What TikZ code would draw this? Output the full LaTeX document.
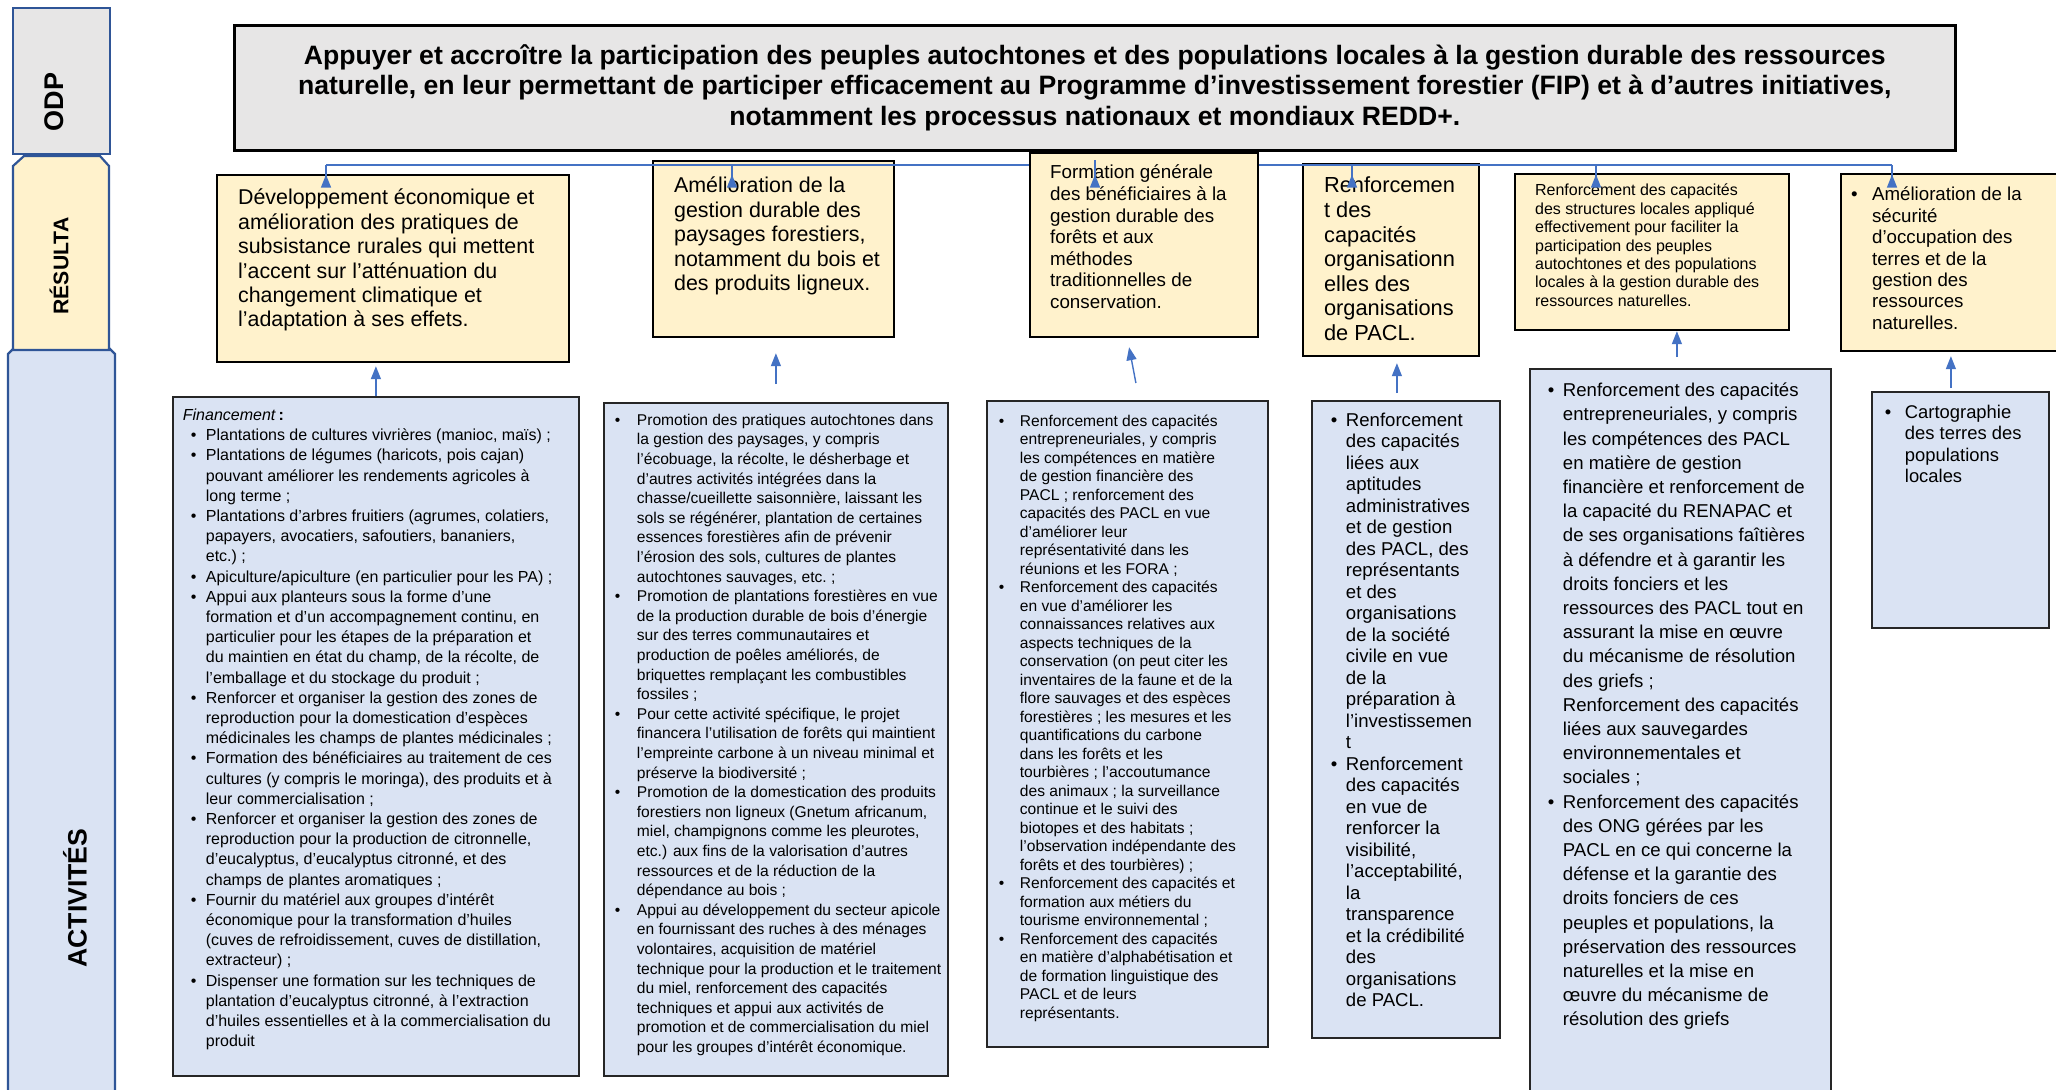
\documentclass[tikz,border=0pt]{standalone}
\usepackage{fontspec}
\setmainfont{Liberation Sans}
\usepackage{tikz}
\usetikzlibrary{arrows.meta}
\usetikzlibrary{calc}
\definecolor{odpgris}{HTML}{E7E6E6}
\definecolor{resjaune}{HTML}{FFF2CC}
\definecolor{actbleu}{HTML}{DAE3F3}
\definecolor{bordbleu}{HTML}{2F5597}
\definecolor{flechebleu}{HTML}{4472C4}
\newcommand{\bloc}[5]{\hspace*{#3}\begin{minipage}[t][#2][t]{#1}\vspace*{#4}\raggedright #5\end{minipage}}
\newenvironment{puces}[2]{\begin{list}{\hspace*{#1}\textbullet}{\setlength{\leftmargin}{#2}\setlength{\labelwidth}{#2}%
  \setlength{\labelsep}{0pt}\setlength{\itemsep}{0pt}\setlength{\parsep}{0pt}\setlength{\topsep}{0pt}%
  \setlength{\partopsep}{0pt}\def\makelabel##1{##1\hfil}}\raggedright}{\end{list}}
\tikzset{
  odpbox/.style={draw=black, line width=1.3pt, fill=odpgris, anchor=north west, align=center,
    minimum width=860.5pt, minimum height=62.5pt, font=\bfseries\fontsize{13.3}{15.1}\selectfont},
  resbox/.style={draw=black, line width=1.1pt, fill=resjaune, inner sep=0pt, anchor=north west},
  actbox/.style={draw=black!85, line width=0.9pt, fill=actbleu, inner sep=0pt, anchor=north west},
  cote/.style={draw=bordbleu, line width=1.1pt},
  cotelbl/.style={rotate=90, inner sep=0pt, font=\bfseries},
  liaison/.style={flechebleu, line width=0.7pt},
  fleche/.style={liaison, -{Triangle[length=6.5pt,width=5pt]}}
}
\begin{document}
\begin{tikzpicture}[x=0.5pt,y=-0.5pt]
  \useasboundingbox (0,0) rectangle (2056,1089);
  \clip (0,0) rectangle (2056,1089);
  \fill[white] (0,0) rectangle (2056,1089);

  \filldraw[cote, fill=odpgris] (13,8) rectangle (110,154);
  \filldraw[cote, fill=actbleu] (8,354) -- (16,346) -- (107,346) -- (115,354) -- (115,1100) -- (8,1100) -- cycle;
  \filldraw[cote, fill=resjaune] (13,166) -- (24,156) -- (100,156) -- (109,166) -- (109,350) -- (13,350) -- cycle;
  \node[cotelbl, font=\bfseries\fontsize{13.5}{15}\selectfont] (lblodp) at (54,102) {ODP};
  \node[cotelbl, font=\bfseries\fontsize{10.6}{12}\selectfont] (lblres) at (59,266) {RÉSULTA};
  \node[cotelbl, font=\bfseries\fontsize{13.3}{15}\selectfont] (lblact) at (75,898) {ACTIVITÉS};

  \node[odpbox] (odp) at (233,24) {Appuyer et accroître la participation des peuples autochtones et des populations locales à la gestion durable des ressources\\
    naturelle, en leur permettant de participer efficacement au Programme d’investissement forestier (FIP) et à d’autres initiatives,\\
    notamment les processus nationaux et mondiaux REDD+.};

  \node[resbox, font=\fontsize{10.7}{12.2}\selectfont] (r1) at (216,174) {\bloc{165.5pt}{93.5pt}{10.5pt}{7pt}{%
    Développement économique et\\ amélioration des pratiques de\\ subsistance rurales qui mettent\\
    l’accent sur l’atténuation du\\ changement climatique et\\ l’adaptation à ses effets.}};
  \node[resbox, font=\fontsize{10.7}{12.2}\selectfont] (r2) at (652,160) {\bloc{110pt}{88pt}{10.5pt}{8pt}{%
    Amélioration de la\\ gestion durable des\\ paysages forestiers,\\ notamment du bois et\\ des produits ligneux.}};
  \node[resbox, font=\fontsize{10.9}{12.3}\selectfont] (r4) at (1302,163) {\bloc{77.5pt}{96pt}{10.5pt}{6.5pt}{%
    Renforcemen\\ t des\\ capacités\\ organisationn\\ elles des\\ organisations\\ de PACL.}};
  \node[resbox, font=\fontsize{8}{9.2}\selectfont] (r5) at (1514,173) {\bloc{127pt}{78pt}{10pt}{5pt}{%
    Renforcement des capacités\\ des structures locales appliqué\\ effectivement pour faciliter la\\ participation des peuples\\
    autochtones et des populations\\ locales à la gestion durable des\\ ressources naturelles.}};
  \node[resbox, font=\fontsize{9.35}{10.7}\selectfont] (r6) at (1840,173) {\bloc{105pt}{88.5pt}{5pt}{6.5pt}{%
    \begin{puces}{0pt}{10.5pt}
    \item Amélioration de la\\ sécurité\\ d’occupation des\\ terres et de la\\ gestion des\\ ressources\\ naturelles.
    \end{puces}}};

  \coordinate (busG) at (326,165);
  \coordinate (busD) at (1892,165);
  \draw[liaison] (busG) -- (busD);

  \node[resbox, font=\fontsize{9.4}{10.8}\selectfont] (r3) at (1029,152) {\bloc{104pt}{92pt}{10pt}{6pt}{%
    Formation générale\\ des bénéficiaires à la\\ gestion durable des\\ forêts et aux\\ méthodes\\ traditionnelles de\\ conservation.}};

  \node[actbox, font=\fontsize{8}{10.1}\selectfont] (a1) at (172,396) {\bloc{198pt}{339.5pt}{5pt}{6pt}{%
    \textit{Financement}\,\textbf{:}\par
    \begin{puces}{4pt}{11.5pt}
    \item Plantations de cultures vivrières (manioc, maïs)~;
    \item Plantations de légumes (haricots, pois cajan)\\ pouvant améliorer les rendements agricoles à\\ long terme~;
    \item Plantations d’arbres fruitiers (agrumes, colatiers,\\ papayers, avocatiers, safoutiers, bananiers,\\ etc.)~;
    \item Apiculture/apiculture (en particulier pour les PA)~;
    \item Appui aux planteurs sous la forme d’une\\ formation et d’un accompagnement continu, en\\ particulier pour les étapes de la préparation et\\
      du maintien en état du champ, de la récolte, de\\ l’emballage et du stockage du produit~;
    \item Renforcer et organiser la gestion des zones de\\ reproduction pour la domestication d’espèces\\ médicinales les champs de plantes médicinales~;
    \item Formation des bénéficiaires au traitement de ces\\ cultures (y compris le moringa), des produits et à\\ leur commercialisation~;
    \item Renforcer et organiser la gestion des zones de\\ reproduction pour la production de citronnelle,\\ d’eucalyptus, d’eucalyptus citronné, et des\\
      champs de plantes aromatiques~;
    \item Fournir du matériel aux groupes d’intérêt\\ économique pour la transformation d’huiles\\ (cuves de refroidissement, cuves de distillation,\\ extracteur)~;
    \item Dispenser une formation sur les techniques de\\ plantation d’eucalyptus citronné, à l’extraction\\ d’huiles essentielles et à la commercialisation du\\ produit
    \end{puces}}};

  \node[actbox, font=\fontsize{7.8}{9.8}\selectfont] (a2) at (603,402) {\bloc{166.5pt}{336.5pt}{5.5pt}{5.5pt}{%
    \begin{puces}{0pt}{11pt}
    \item Promotion des pratiques autochtones dans\\ la gestion des paysages, y compris\\ l’écobuage, la récolte, le désherbage et\\
      d’autres activités intégrées dans la\\ chasse/cueillette saisonnière, laissant les\\ sols se régénérer, plantation de certaines\\
      essences forestières afin de prévenir\\ l’érosion des sols, cultures de plantes\\ autochtones sauvages, etc.~;
    \item Promotion de plantations forestières en vue\\ de la production durable de bois d’énergie\\ sur des terres communautaires et\\
      production de poêles améliorés, de\\ briquettes remplaçant les combustibles\\ fossiles~;
    \item Pour cette activité spécifique, le projet\\ financera l’utilisation de forêts qui maintient\\ l’empreinte carbone à un niveau minimal et\\ préserve la biodiversité~;
    \item Promotion de la domestication des produits\\ forestiers non ligneux (Gnetum africanum,\\ miel, champignons comme les pleurotes,\\
      etc.) aux fins de la valorisation d’autres\\ ressources et de la réduction de la\\ dépendance au bois~;
    \item Appui au développement du secteur apicole\\ en fournissant des ruches à des ménages\\ volontaires, acquisition de matériel\\
      technique pour la production et le traitement\\ du miel, renforcement des capacités\\ techniques et appui aux activités de\\
      promotion et de commercialisation du miel\\ pour les groupes d’intérêt économique.
    \end{puces}}};

  \node[actbox, font=\fontsize{7.8}{9.25}\selectfont] (a3) at (986,400) {\bloc{134.5pt}{323pt}{6pt}{7pt}{%
    \begin{puces}{0pt}{10.5pt}
    \item Renforcement des capacités\\ entrepreneuriales, y compris\\ les compétences en matière\\ de gestion financière des\\
      PACL~; renforcement des\\ capacités des PACL en vue\\ d’améliorer leur\\ représentativité dans les\\ réunions et les FORA~;
    \item Renforcement des capacités\\ en vue d’améliorer les\\ connaissances relatives aux\\ aspects techniques de la\\
      conservation (on peut citer les\\ inventaires de la faune et de la\\ flore sauvages et des espèces\\ forestières~; les mesures et les\\
      quantifications du carbone\\ dans les forêts et les\\ tourbières~; l’accoutumance\\ des animaux~; la surveillance\\
      continue et le suivi des\\ biotopes et des habitats~;\\ l’observation indépendante des\\ forêts et des tourbières)~;
    \item Renforcement des capacités et\\ formation aux métiers du\\ tourisme environnemental~;
    \item Renforcement des capacités\\ en matière d’alphabétisation et\\ de formation linguistique des\\ PACL et de leurs\\ représentants.
    \end{puces}}};

  \node[actbox, font=\fontsize{9.3}{10.75}\selectfont] (a4) at (1311,400) {\bloc{84.5pt}{318.5pt}{9.5pt}{6pt}{%
    \begin{puces}{0pt}{7.5pt}
    \item Renforcement\\ des capacités\\ liées aux\\ aptitudes\\ administratives\\ et de gestion\\ des PACL, des\\ représentants\\
      et des\\ organisations\\ de la société\\ civile en vue\\ de la\\ préparation à\\ l’investissemen\\ t
    \item Renforcement\\ des capacités\\ en vue de\\ renforcer la\\ visibilité,\\ l’acceptabilité,\\ la\\ transparence\\
      et la crédibilité\\ des\\ organisations\\ de PACL.
    \end{puces}}};

  \node[actbox, font=\fontsize{9.3}{12.1}\selectfont] (a5) at (1529,368) {\bloc{141.5pt}{366pt}{9pt}{7pt}{%
    \begin{puces}{0pt}{7.5pt}
    \item Renforcement des capacités\\ entrepreneuriales, y compris\\ les compétences des PACL\\ en matière de gestion\\
      financière et renforcement de\\ la capacité du RENAPAC et\\ de ses organisations faîtières\\ à défendre et à garantir les\\
      droits fonciers et les\\ ressources des PACL tout en\\ assurant la mise en œuvre\\ du mécanisme de résolution\\
      des griefs~;\\ Renforcement des capacités\\ liées aux sauvegardes\\ environnementales et\\ sociales~;
    \item Renforcement des capacités\\ des ONG gérées par les\\ PACL en ce qui concerne la\\ défense et la garantie des\\
      droits fonciers de ces\\ peuples et populations, la\\ préservation des ressources\\ naturelles et la mise en\\
      œuvre du mécanisme de\\ résolution des griefs
    \end{puces}}};

  \node[actbox, font=\fontsize{9.2}{10.7}\selectfont] (a6) at (1871,391) {\bloc{82pt}{118pt}{6.5pt}{6.5pt}{%
    \begin{puces}{0pt}{10pt}
    \item Cartographie\\ des terres des\\ populations\\ locales
    \end{puces}}};

  \draw[fleche, shorten >=1.5pt] (a1.north) -- (a1.north |- r1.south);
  \draw[fleche, shorten <=9pt, shorten >=7.5pt] (a2.north) -- (a2.north |- r2.south);
  \coordinate (q3) at ($(a3.north)+(8.5,-17)$);
  \coordinate (t3) at ($(r3.south)+(-15,9)$);
  \draw[fleche] (q3) -- (t3);
  \coordinate (q4) at ($(a4.north)+(-9,0)$);
  \draw[fleche, shorten <=3.5pt, shorten >=3pt] (q4) -- (q4 |- r4.south);
  \coordinate (q5) at ($(a5.north)+(-3.5,0)$);
  \draw[fleche, shorten <=5.5pt] (q5) -- (q5 |- r5.south);
  \coordinate (q6) at ($(a6.north)+(-9.5,0)$);
  \draw[fleche, shorten <=1.5pt, shorten >=2pt] (q6) -- (q6 |- r6.south);

  \foreach \x/\y in {326/165,732/165,1095/160,1352/165,1596/165,1892/165} {
    \coordinate (pied) at (\x,\y);
    \draw[fleche, shorten >=11.5pt] (pied) -- (pied |- odp.south);
  }
\end{tikzpicture}
\end{document}
